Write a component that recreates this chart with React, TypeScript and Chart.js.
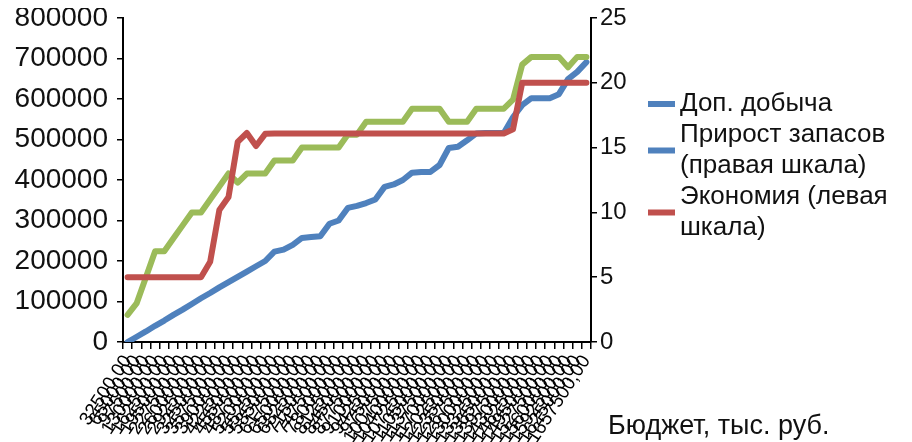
import React, { useEffect, useRef } from "react";
import { Chart, registerables } from "chart.js";

Chart.register(...registerables);

// Budget, thousand roubles (x categories)
const budgetLabels: string[] = [
  "32500,00", "65000,00", "97500,00", "130000,00", "162500,00", "195000,00", "227500,00",
  "260000,00", "292500,00", "325000,00", "357500,00", "390000,00", "422500,00", "455000,00",
  "487500,00", "520000,00", "552500,00", "585000,00", "617500,00", "650000,00", "682500,00",
  "715000,00", "747500,00", "780000,00", "812500,00", "845000,00", "877500,00", "910000,00",
  "942500,00", "975000,00", "1007500,00", "1040000,00", "1072500,00", "1105000,00", "1137500,00",
  "1170000,00", "1202500,00", "1235000,00", "1267500,00", "1300000,00", "1332500,00", "1365000,00",
  "1397500,00", "1430000,00", "1462500,00", "1495000,00", "1527500,00", "1560000,00", "1592500,00",
  "1625000,00", "1657500,00",
];

// Доп. добыча (left scale)
const dopDobycha: number[] = [
  0, 13000, 26000, 40000, 53000, 67000, 80000, 94000, 108000, 121000,
  135000, 148000, 161000, 174000, 187000, 200000, 223000, 228000, 240000, 257000,
  259000, 261000, 292000, 300000, 331000, 336000, 343000, 352000, 383000, 389000,
  400000, 418000, 420000, 420000, 437000, 479000, 482000, 498000, 515000, 516000,
  516000, 516000, 555000, 585000, 602000, 602000, 602000, 612000, 649000, 667000,
  691000,
];

// Прирост запасов (right scale)
const prirostZapasov: number[] = [
  2.1, 3.0, 5.0, 7.0, 7.0, 8.0, 9.0, 10.0, 10.0, 11.0,
  12.0, 13.0, 12.3, 13.0, 13.0, 13.0, 14.0, 14.0, 14.0, 15.0,
  15.0, 15.0, 15.0, 15.0, 16.0, 16.0, 17.0, 17.0, 17.0, 17.0,
  17.0, 18.0, 18.0, 18.0, 18.0, 17.0, 17.0, 17.0, 18.0, 18.0,
  18.0, 18.0, 18.7, 21.4, 22.0, 22.0, 22.0, 22.0, 21.2, 22.0,
  22.0,
];

// Экономия (left scale)
const ekonomiya: number[] = [
  160000, 160000, 160000, 160000, 160000, 160000, 160000, 160000, 160000, 198000,
  326000, 358000, 494000, 516000, 484000, 514000, 515000, 515000, 515000, 515000,
  515000, 515000, 515000, 515000, 515000, 515000, 515000, 515000, 515000, 515000,
  515000, 515000, 515000, 515000, 515000, 515000, 515000, 515000, 515000, 515000,
  515000, 515000, 525000, 640000, 640000, 640000, 640000, 640000, 640000, 640000,
  640000,
];

const seriesNames = ["Доп. добыча", "Прирост запасов (правая шкала)", "Экономия (левая шкала)"];
const seriesColors = ["#4F81BD", "#9BBB59", "#C0504D"];
const legendLines: string[][] = [["Доп. добыча"], ["Прирост запасов", "(правая шкала)"], ["Экономия (левая", "шкала)"]];
const legendColors = ["#4F81BD", "#4F81BD", "#C0504D"];
const xAxisTitle = "Бюджет, тыс. руб.";

const FONT = "'Liberation Sans', Arial, sans-serif";

const noVerticalPadding = (s: any) => {
  s.paddingTop = 0;
  s.paddingBottom = 0;
};

export default function App() {
  const ref = useRef<HTMLCanvasElement>(null);

  useEffect(() => {
    const canvas = ref.current;
    if (!canvas) return;

    const overlay = {
      id: "overlay",
      afterDraw(chart: any) {
        const ctx = chart.ctx as CanvasRenderingContext2D;
        const area = chart.chartArea;
        ctx.save();
        ctx.font = `26px ${FONT}`;
        ctx.fillStyle = "#111";
        ctx.textBaseline = "middle";
        ctx.textAlign = "left";
        const lineH = 31;
        let y = area.top + 86;
        const markX = area.right + 57;
        const textX = area.right + 89;
        legendLines.forEach((lines, i) => {
          const mid = y + ((lines.length - 1) * lineH) / 2;
          ctx.strokeStyle = legendColors[i];
          ctx.lineWidth = 6;
          ctx.lineCap = "butt";
          ctx.beginPath();
          ctx.moveTo(markX, mid);
          ctx.lineTo(markX + 27, mid);
          ctx.stroke();
          lines.forEach((t, j) => ctx.fillText(t, textX, y + j * lineH));
          y += lines.length * lineH;
        });
        ctx.font = `27px ${FONT}`;
        ctx.fillText(xAxisTitle, area.right + 17, area.bottom + 85);
        ctx.restore();
      },
    };

    const chart = new Chart(canvas, {
      type: "line",
      data: {
        labels: budgetLabels,
        datasets: [
          { label: seriesNames[0], data: dopDobycha, yAxisID: "yLeft", borderColor: seriesColors[0], backgroundColor: seriesColors[0], order: 2 },
          { label: seriesNames[1], data: prirostZapasov, yAxisID: "yRight", borderColor: seriesColors[1], backgroundColor: seriesColors[1], order: 1 },
          { label: seriesNames[2], data: ekonomiya, yAxisID: "yLeft", borderColor: seriesColors[2], backgroundColor: seriesColors[2], order: 0 },
        ],
      },
      options: {
        responsive: false,
        animation: false,
        devicePixelRatio: 1,
        layout: { padding: { top: 10, right: 253, left: 0, bottom: 0 } },
        plugins: { legend: { display: false }, tooltip: { enabled: false } },
        elements: {
          line: { borderWidth: 6, tension: 0, borderJoinStyle: "round", borderCapStyle: "round" },
          point: { radius: 0, hoverRadius: 0 },
        },
        scales: {
          x: {
            type: "category",
            offset: true,
            grid: { offset: true, drawOnChartArea: false, color: "#000", lineWidth: 1.5, tickLength: 7 },
            border: { color: "#000", width: 2 },
            ticks: {
              autoSkip: false,
              minRotation: 57,
              maxRotation: 57,
              padding: 2,
              color: "#000",
              font: { family: FONT, size: 19 },
            },
            afterFit: (s: any) => {
              s.height = 100;
              s.paddingLeft = 0;
              s.paddingRight = 0;
            },
          },
          yLeft: {
            position: "left",
            min: 0,
            max: 800000,
            ticks: {
              stepSize: 100000,
              padding: 9,
              color: "#111",
              font: { family: FONT, size: 28 },
              callback: (v: any) => String(v),
            },
            grid: { drawOnChartArea: false, color: "#000", lineWidth: 1.5, tickLength: 6 },
            border: { color: "#000", width: 2 },
            afterFit: (s: any) => {
              s.width = 115;
              noVerticalPadding(s);
            },
          },
          yRight: {
            position: "right",
            min: 0,
            max: 25,
            ticks: {
              stepSize: 5,
              padding: 3,
              color: "#111",
              font: { family: FONT, size: 24 },
              callback: (v: any) => String(v),
            },
            grid: { drawOnChartArea: false, color: "#000", lineWidth: 1.5, tickLength: 6 },
            border: { color: "#000", width: 2 },
            afterFit: (s: any) => {
              s.width = 60;
              noVerticalPadding(s);
            },
          },
        },
      } as any,
      plugins: [overlay],
    });

    return () => chart.destroy();
  }, []);

  return <canvas ref={ref} width={896} height={434} style={{ display: "block" }} />;
}
